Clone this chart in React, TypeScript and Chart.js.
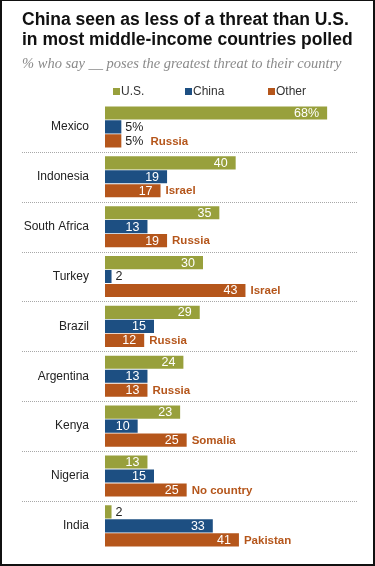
import React, { useEffect, useRef } from "react";
import { Chart, registerables } from "chart.js";

Chart.register(...registerables);

const countries = ["Mexico", "Indonesia", "South Africa", "Turkey", "Brazil", "Argentina", "Kenya", "Nigeria", "India"];
const usValues = [68, 40, 35, 30, 29, 24, 23, 13, 2];
const chinaValues = [5, 19, 13, 2, 15, 13, 10, 15, 33];
const otherValues = [5, 17, 19, 43, 12, 13, 25, 25, 41];
const otherCountries = ["Russia", "Israel", "Russia", "Israel", "Russia", "Russia", "Somalia", "No country", "Pakistan"];
const seriesNames = ["U.S.", "China", "Other"];
const seriesColors = ["#98a03c", "#1d4f82", "#b5561b"];

const titleLines = ["China seen as less of a threat than U.S.", "in most middle-income countries polled"];
const subtitleText = "% who say __ poses the greatest threat to their country";

const SANS = "'Liberation Sans', Arial, sans-serif";

const labelPlugin = {
  id: "barLabels",
  afterDatasetsDraw(chart: any) {
    const ctx = chart.ctx;
    const yScale = chart.scales.y;
    ctx.save();
    ctx.strokeStyle = "#a8a8a8";
    ctx.lineWidth = 1;
    ctx.setLineDash([1, 1]);
    for (let i = 0; i < countries.length - 1; i++) {
      const yy = Math.round((yScale.getPixelForValue(i) + yScale.getPixelForValue(i + 1)) / 2) + 0.5;
      ctx.beginPath();
      ctx.moveTo(22, yy);
      ctx.lineTo(358, yy);
      ctx.stroke();
    }
    ctx.setLineDash([]);
    chart.data.datasets.forEach((ds: any, di: number) => {
      const meta = chart.getDatasetMeta(di);
      meta.data.forEach((bar: any, i: number) => {
        const v = ds.data[i];
        const txt = i === 0 ? v + "%" : String(v);
        ctx.font = "12.5px " + SANS;
        ctx.textBaseline = "middle";
        let endX;
        if (v > 5) {
          ctx.fillStyle = "#ffffff";
          ctx.textAlign = "right";
          ctx.fillText(txt, bar.x - 8, bar.y + 0.5);
          endX = bar.x;
        } else {
          ctx.fillStyle = "#222222";
          ctx.textAlign = "left";
          ctx.fillText(txt, bar.x + 4, bar.y + 0.5);
          endX = bar.x + 4 + ctx.measureText(txt).width + 2;
        }
        if (di === 2) {
          ctx.font = "bold 11.5px " + SANS;
          ctx.fillStyle = seriesColors[2];
          ctx.textAlign = "left";
          ctx.fillText(otherCountries[i], endX + 5, bar.y + 0.5);
        }
      });
    });
    ctx.restore();
  },
};

export default function App() {
  const canvasRef = useRef<HTMLCanvasElement | null>(null);

  useEffect(() => {
    document.body.style.margin = "0";
    const canvas = canvasRef.current;
    if (!canvas) return;
    const chart = new Chart(canvas, {
      type: "bar",
      data: {
        labels: countries,
        datasets: [
          { label: seriesNames[0], data: usValues, backgroundColor: seriesColors[0] },
          { label: seriesNames[1], data: chinaValues, backgroundColor: seriesColors[1] },
          { label: seriesNames[2], data: otherValues, backgroundColor: seriesColors[2] },
        ],
      },
      options: {
        indexAxis: "y",
        responsive: false,
        animation: false,
        devicePixelRatio: 1,
        layout: { padding: { top: 102, bottom: 4, left: 0, right: 25 } },
        datasets: { bar: { categoryPercentage: 0.84, barPercentage: 0.94 } } as any,
        plugins: {
          legend: { display: false },
          tooltip: { enabled: false },
          title: { display: false },
        },
        scales: {
          x: { display: false, min: 0, max: 75 },
          y: {
            grid: { display: false },
            border: { display: false },
            ticks: { color: "#222222", font: { family: SANS, size: 12 }, padding: 8 },
            afterFit(scale: any) {
              scale.width = 105;
            },
          },
        },
      },
      plugins: [labelPlugin],
    });
    return () => chart.destroy();
  }, []);

  const legendX = [113, 185, 268];

  return (
    <div style={{ position: "relative", width: 375, height: 566, background: "#fff", overflow: "hidden" }}>
      <canvas ref={canvasRef} width={375} height={566} style={{ display: "block", width: 375, height: 566 }} />
      <div
        style={{
          position: "absolute",
          left: 22,
          top: 9,
          font: "bold 17.5px " + SANS,
          lineHeight: "20px",
          color: "#111",
          whiteSpace: "nowrap",
        }}
      >
        {titleLines.map((l, i) => (
          <div key={i}>{l}</div>
        ))}
      </div>
      <div
        style={{
          position: "absolute",
          left: 22,
          top: 55,
          font: "italic 14.5px 'Liberation Serif', Georgia, serif",
          lineHeight: "17px",
          color: "#8a8a8a",
          whiteSpace: "nowrap",
        }}
      >
        {subtitleText}
      </div>
      {seriesNames.map((n, i) => (
        <div
          key={n}
          style={{
            position: "absolute",
            left: legendX[i],
            top: 84,
            height: 14,
            display: "flex",
            alignItems: "center",
            font: "12px " + SANS,
            color: "#333",
            whiteSpace: "nowrap",
          }}
        >
          <span style={{ display: "inline-block", width: 7, height: 7, background: seriesColors[i], marginRight: 1 }} />
          {n}
        </div>
      ))}
      <div
        style={{
          position: "absolute",
          inset: 0,
          borderTop: "1px solid #111",
          borderLeft: "2px solid #111",
          borderRight: "2px solid #111",
          borderBottom: "2px solid #111",
          boxSizing: "border-box",
          pointerEvents: "none",
        }}
      />
    </div>
  );
}
